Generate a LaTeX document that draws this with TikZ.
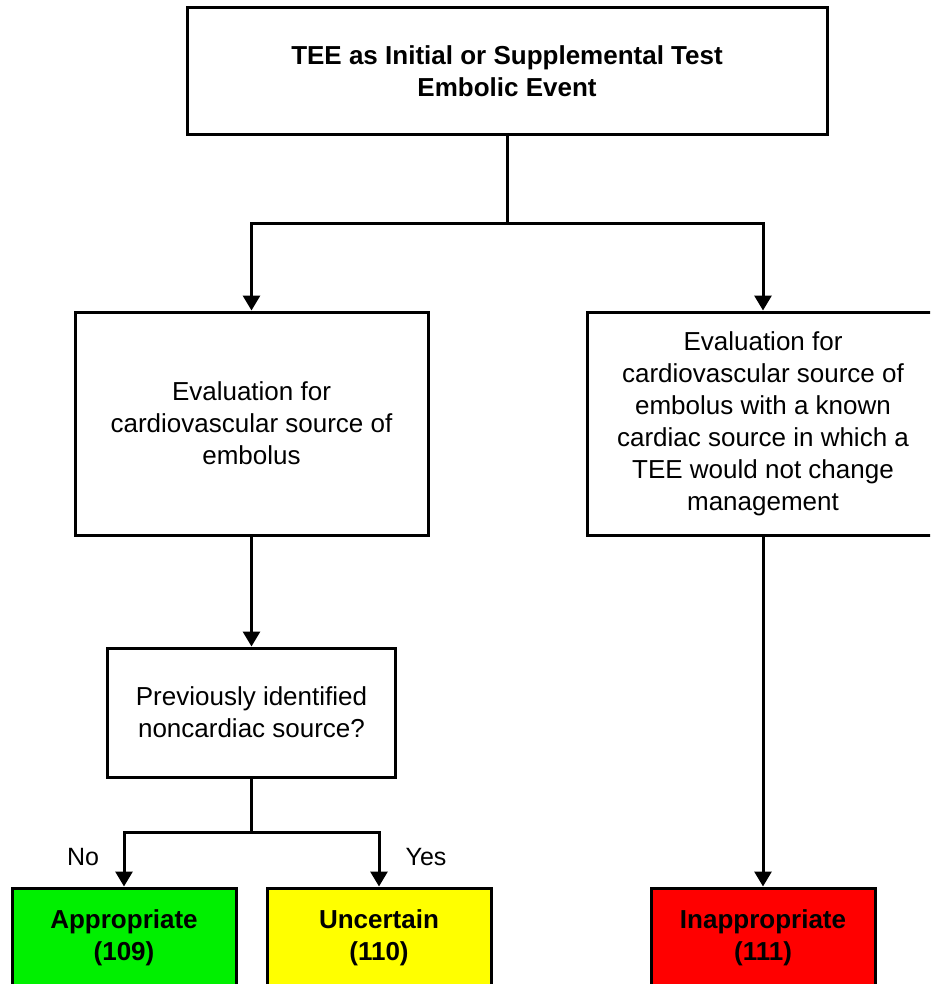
\documentclass[tikz,border=0pt]{standalone}
\usepackage{fontspec}
\setmainfont{Liberation Sans}
\usetikzlibrary{arrows.meta}
\definecolor{okgreen}{RGB}{0,240,0}
\definecolor{maybeyellow}{RGB}{255,255,0}
\definecolor{nored}{RGB}{255,0,0}
\begin{document}
\begin{tikzpicture}[x=1pt,y=-1pt,
  box/.style={draw=black,line width=3pt,rectangle,align=center,inner sep=0pt,
    font=\fontsize{26}{32}\selectfont},
  boldtext/.style={font=\fontsize{26}{32}\selectfont\bfseries},
  result/.style={box,boldtext,minimum width=224pt,minimum height=100pt},
  link/.style={line width=3pt},
  arrow/.style={link,-{Triangle[width=17pt,length=15pt]}},
  branch/.style={font=\fontsize{25}{30}\selectfont}]
\useasboundingbox (0,0) rectangle (930,984);
\clip (0,0) rectangle (930,984);

% boxes
\node[box,boldtext,minimum width=640pt,minimum height=127pt] (top) at (507,71.5)
  {TEE as Initial or Supplemental Test\\Embolic Event};
\node[box,minimum width=353pt,minimum height=223pt] (eval) at (251.5,423.5)
  {Evaluation for\\cardiovascular source of\\embolus};
\node[box,minimum width=352pt,minimum height=223pt] (known) at (763,423.5)
  {Evaluation for\\cardiovascular source of\\embolus with a known\\cardiac source in which a\\TEE would not change\\management};
\node[box,minimum width=288pt,minimum height=129pt] (prev) at (251.5,712.5)
  {Previously identified\\noncardiac source?};
\node[result,fill=okgreen] (app) at (124,938) {Appropriate\\(109)};
\node[result,fill=maybeyellow] (unc) at (379,938) {Uncertain\\(110)};
\node[result,fill=nored] (inapp) at (763,938) {Inappropriate\\(111)};

% branch points
\coordinate (topsplit) at (top.south |- 0,224);
\coordinate (prevsplit) at (prev.south |- 0,832);

% connectors
\draw[link] (top.south) -- (topsplit);
\draw[arrow] (topsplit) -| (eval.north);
\draw[arrow] (topsplit) -| (known.north);
\draw[arrow] (eval.south) -- (prev.north);
\draw[link] (prev.south) -- (prevsplit);
\draw[arrow] (prevsplit) -| (app.north);
\draw[arrow] (prevsplit) -| (unc.north);
\draw[arrow] (known.south) -- (inapp.north);

% branch labels
\node[branch] (nolabel) at (83,857) {No};
\node[branch] (yeslabel) at (426,857) {Yes};
\end{tikzpicture}
\end{document}
